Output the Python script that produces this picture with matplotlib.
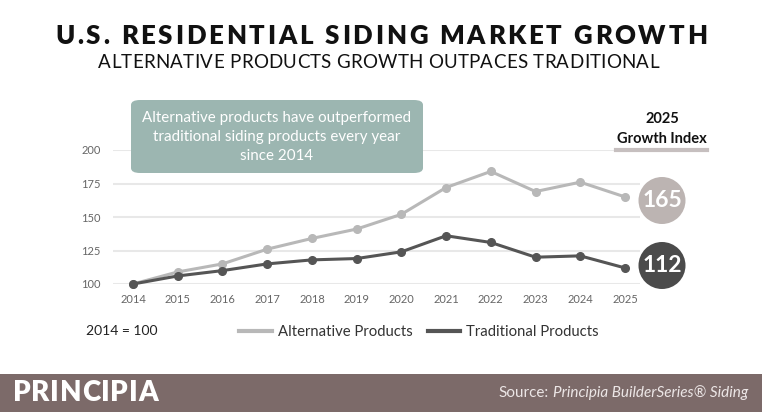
import matplotlib
matplotlib.use("Agg")
import matplotlib.pyplot as plt
from matplotlib.patches import Rectangle, FancyBboxPatch, Ellipse
from matplotlib.lines import Line2D

# data
years = [2014, 2015, 2016, 2017, 2018, 2019, 2020, 2021, 2022, 2023, 2024, 2025]
alternative = [100, 109, 115, 126, 134, 141, 152, 172, 184, 169, 176, 165]
traditional = [100, 106, 110, 115, 118, 119, 124, 136, 131, 120, 121, 112]
y_ticks = [100, 125, 150, 175, 200]

W, H = 762, 412
FONT = "Lato"
ALT_C = "#b8b8b8"
TRAD_C = "#555555"


def fx(px):
    return px / W


def fy(py):
    return 1 - py / H


def tracked_text(fig, x0, x1, base, s, va="baseline", **kw):
    # spread characters so the string fills x0..x1 (letter spacing)
    r = fig.canvas.get_renderer()
    ref = fig.text(0, 0, "H", **kw)
    wref = ref.get_window_extent(r).width
    ref.remove()
    adv = []
    for ch in s:
        t = fig.text(0, 0, ch + "H", **kw)
        adv.append(t.get_window_extent(r).width - wref)
        t.remove()
    track = ((x1 - x0) - sum(adv)) / (len(s) - 1)
    x = x0
    for ch, a in zip(s, adv):
        fig.text(fx(x), fy(base), ch, ha="left", va=va, **kw)
        x += a + track


fig = plt.figure(figsize=(W / 100, H / 100), dpi=100)
fig.patch.set_facecolor("white")

tracked_text(fig, 55, 707, 44, "U.S. RESIDENTIAL SIDING MARKET GROWTH",
             fontsize=18.5, fontweight="heavy", family=FONT, color="#111111")
tracked_text(fig, 98, 659, 68, "ALTERNATIVE PRODUCTS GROWTH OUTPACES TRADITIONAL",
             fontsize=13.5, family=FONT, color="#111111")

# main axes
ax = fig.add_axes([fx(113), fy(284), fx(640) - fx(113), (284 - 150) / H])
ax.set_xlim(2014 - 20 / 44.7, 2025 + 15 / 44.7)
ax.set_ylim(100, 200)
for sp in ax.spines.values():
    sp.set_visible(False)
ax.set_yticks(y_ticks)
ax.set_xticks(years)
ax.grid(axis="y", color="#e8e8e8", lw=1.5)
ax.set_axisbelow(True)
ax.tick_params(length=0, labelsize=8, labelcolor="#666666")
ax.tick_params(axis="y", pad=9)
ax.tick_params(axis="x", pad=7)
for lab in ax.get_xticklabels() + ax.get_yticklabels():
    lab.set_family(FONT)

ax.plot(years, alternative, color=ALT_C, lw=2.2, marker="o", ms=5.5, clip_on=False, zorder=3)
ax.plot(years, traditional, color=TRAD_C, lw=2.2, marker="o", ms=5.5, clip_on=False, zorder=4)

# callout box
box = FancyBboxPatch((fx(131), fy(173)), fx(423) - fx(131), (173 - 100) / H,
                     boxstyle="round,pad=0,rounding_size=0.012",
                     transform=fig.transFigure, fc="#9cb6b1", ec="none", zorder=5)
fig.add_artist(box)
fig.text(fx(277), fy(137), "Alternative products have outperformed\ntraditional siding products every year\nsince 2014",
         ha="center", va="center", color="white", fontsize=10.9, family=FONT,
         linespacing=1.42, zorder=6)

# growth index labels
fig.text(fx(662), fy(119), "2025", ha="center", va="center", fontsize=10.5,
         fontweight="bold", family=FONT, color="#111111")
fig.text(fx(662), fy(139), "Growth Index", ha="center", va="center", fontsize=10.5,
         fontweight="bold", family=FONT, color="#111111")
fig.add_artist(Line2D([fx(616), fx(707)], [fy(150), fy(150)], transform=fig.transFigure,
                      color="#c6bfbf", lw=3))

for val, cy, col in [(alternative[-1], 200.5, "#bcb4b2"), (traditional[-1], 265.5, "#4b4b4b")]:
    fig.add_artist(Ellipse((fx(662), fy(cy)), 47 / W, 47 / H, transform=fig.transFigure,
                           fc=col, ec="none"))
    fig.text(fx(662), fy(cy), str(val), ha="center", va="center", color="white",
             fontsize=16.5, fontweight="bold", family=FONT)

# legend row
fig.text(fx(86), fy(331), "2014 = 100", ha="left", va="center", fontsize=10,
         family=FONT, color="#222222")
handles = [Line2D([], [], color=ALT_C, lw=3), Line2D([], [], color=TRAD_C, lw=3)]
fig.legend(handles, ["Alternative Products", "Traditional Products"],
           loc="center left", bbox_to_anchor=(fx(226), fy(332)), ncol=2, frameon=False,
           handlelength=2.2, handletextpad=0.4, columnspacing=1.0,
           prop={"family": FONT, "size": 10.7}, labelcolor="#333333")

# footer band
fig.add_artist(Rectangle((0, 0), 1, 38 / H, transform=fig.transFigure,
                         fc="#7c6a69", ec="none"))
tracked_text(fig, 13, 158, 401, "PRINCIPIA", color="white",
             fontsize=20, fontweight="heavy", family=FONT)
r = fig.canvas.get_renderer()
src = fig.text(fx(748), fy(393), "Principia BuilderSeries\u00ae Siding", ha="right",
               va="center", color="#ece6e6", fontsize=11, style="italic", family=FONT)
sx = src.get_window_extent(r).x0
fig.text(fx(sx - 4), fy(393), "Source:", ha="right", va="center", color="#ece6e6",
         fontsize=11, family=FONT)

fig.savefig("out.png", dpi=100)
